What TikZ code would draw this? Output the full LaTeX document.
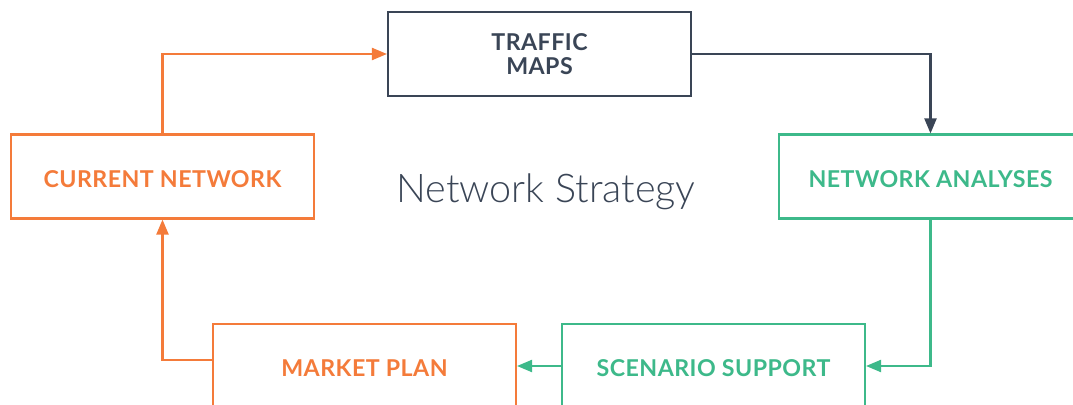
\documentclass[tikz,border=0pt]{standalone}
\usepackage{fontspec}
\setmainfont{Lato}
\newfontfamily\boxfont[LetterSpace=2]{Lato Bold}
\newfontfamily\titlefont{Lato Light}
\usetikzlibrary{arrows.meta,positioning}

\definecolor{slate}{HTML}{3A4556}
\definecolor{carrot}{HTML}{F47B3A}
\definecolor{mint}{HTML}{3DB98A}

\begin{document}
\begin{tikzpicture}[x=0.02cm,y=-0.02cm,>={Triangle[length=0.3cm,width=0.24cm]},
  stage/.style={draw=#1,text=#1,line width=1.2pt,fill=white,minimum width=6.06cm,minimum height=1.68cm,
    align=center,font=\boxfont\fontsize{13.2}{13.5}\selectfont},
  oneline/.style={text height=12.4pt,text depth=0pt},
  link/.style={->,line width=1.2pt,color=#1}]

% page frame
\clip (0,0) rectangle (1073,405);
\useasboundingbox (0,0) rectangle (1073,405);

% the five stages
\node[stage=slate] (traffic) at (539.5,54) {TRAFFIC\\MAPS};
\node[stage=carrot,oneline] (current) at (162.5,176.5) {CURRENT NETWORK};
\node[stage=mint,oneline] (analyses) at (930.5,176.5) {NETWORK ANALYSES};
\node[stage=carrot,oneline] (market) at (364.5,366) {MARKET PLAN};
\node[stage=mint,oneline] (scenario) at (713.5,366) {SCENARIO SUPPORT};

% title in the middle
\node[text=slate,font=\titlefont\fontsize{22.5}{26}\selectfont] (title) at (546,192) {Network Strategy};

% the cycle
\draw[link=carrot] (current.north) |- (traffic.west);
\draw[link=slate] (traffic.east) -| (analyses.north);
\draw[link=mint] (analyses.south) |- (scenario.east);
\draw[link=mint] (scenario.west) -- (market.east);
\draw[link=carrot] ([yshift=3.4pt]market.west) -| (current.south);

\end{tikzpicture}
\end{document}
